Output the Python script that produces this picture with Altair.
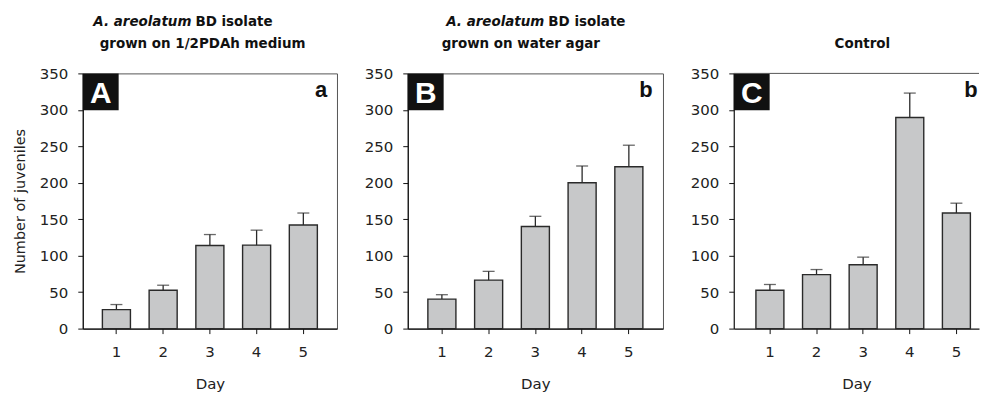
import altair as alt
import pandas as pd

days = [1, 2, 3, 4, 5]
means_A = [26, 52.5, 114, 114.5, 142]
upper_A = [33, 59.5, 129, 135, 158.5]
means_B = [40.5, 66.5, 140, 200, 222]
upper_B = [46.5, 78.5, 154, 223, 251.5]
means_C = [52.5, 74, 87.5, 289.5, 158.5]
upper_C = [60.5, 81, 98, 323, 172]

panel_ids = ["A", "B", "C"]
sig_letters = ["a", "b", "b"]
title_italic = ["A. areolatum", "A. areolatum", ""]
title_bold1 = ["BD isolate", "BD isolate", "Control"]
title_line2 = ["grown on 1/2PDAh medium", "grown on water agar", ""]
y_ticks = [0, 50, 100, 150, 200, 250, 300, 350]

H = 256
FONT = "DejaVu Sans"


def panel(i, means, upper, show_title, W, pad_outer, align, sig_dx, cut_right):
    df = pd.DataFrame({"Day": days, "mean": means, "upper": upper})
    base = alt.Chart(df)
    xaxis = alt.Axis(labelAngle=0, title="Day", titlePadding=17, labelPadding=11)
    xscale = alt.Scale(paddingInner=0.4, paddingOuter=pad_outer, align=align)
    xenc = alt.X("Day:O", scale=xscale, axis=xaxis)
    yaxis = alt.Axis(values=y_ticks, title="Number of juveniles" if show_title else None,
                     titlePadding=12, labelPadding=10, grid=False, labelOverlap=False)
    yscale = alt.Scale(domain=[0, 350], nice=False)

    bars = base.mark_bar(fill="#c7c8c9", stroke="#2a2a2a", strokeWidth=1.4).encode(
        x=xenc, y=alt.Y("mean:Q", scale=yscale, axis=yaxis)
    )
    err = base.mark_rule(color="#2a2a2a", strokeWidth=1.3).encode(
        x=xenc, y=alt.Y("mean:Q", scale=yscale, axis=yaxis), y2="upper:Q"
    )
    cap = base.mark_tick(color="#2a2a2a", size=12, thickness=1.3, orient="horizontal").encode(
        x=xenc, y=alt.Y("upper:Q", scale=yscale, axis=yaxis)
    )

    info = pd.DataFrame({
        "pid": [panel_ids[i]],
        "sig": [sig_letters[i]],
        "it": [title_italic[i]],
        "b1": [title_bold1[i]],
        "l2": [title_line2[i]],
    })
    ib = alt.Chart(info)
    box = ib.mark_rect(color="#111111").encode(
        x=alt.value(0), x2=alt.value(36), y=alt.value(0), y2=alt.value(37)
    )
    letter = ib.mark_text(color="white", font="Liberation Sans", fontWeight="bold",
                          fontSize=30, align="center", baseline="alphabetic").encode(
        x=alt.value(18), y=alt.value(30), text="pid:N"
    )
    sig = ib.mark_text(color="#111111", font="Liberation Sans", fontWeight="bold",
                       fontSize=22, align="center", baseline="alphabetic").encode(
        x=alt.value(W - sig_dx), y=alt.value(23.5), text="sig:N"
    )
    layers = [bars, err, cap, box, letter, sig]
    if cut_right:
        layers.append(ib.mark_rule(color="#555555", strokeWidth=1).encode(
            x=alt.value(0), x2=alt.value(W), y=alt.value(0)))

    tstyle = dict(font=FONT, fontWeight="bold", fontSize=13.5, color="#111111",
                  baseline="alphabetic")
    if i == 0:
        layers += [
            ib.mark_text(align="right", fontStyle="italic", **tstyle).encode(
                x=alt.value(109), y=alt.value(-48), text="it:N"),
            ib.mark_text(align="left", **tstyle).encode(
                x=alt.value(113), y=alt.value(-48), text="b1:N"),
            ib.mark_text(align="left", **tstyle).encode(
                x=alt.value(17), y=alt.value(-25), text="l2:N"),
        ]
    elif i == 1:
        layers += [
            ib.mark_text(align="right", fontStyle="italic", **tstyle).encode(
                x=alt.value(137), y=alt.value(-48), text="it:N"),
            ib.mark_text(align="left", **tstyle).encode(
                x=alt.value(141), y=alt.value(-48), text="b1:N"),
            ib.mark_text(align="left", **tstyle).encode(
                x=alt.value(34), y=alt.value(-25), text="l2:N"),
        ]
    else:
        layers += [
            ib.mark_text(align="center", **tstyle).encode(
                x=alt.value(129), y=alt.value(-25), text="b1:N"),
        ]
    ch = alt.layer(*layers).properties(width=W, height=H)
    if cut_right:
        ch = ch.properties(view=alt.ViewBackground(stroke="transparent"))
    return ch


pA = panel(0, means_A, upper_A, True, 255, 0.42, 0.5, 16, False)
pB = panel(1, means_B, upper_B, False, 256, 0.43, 0.5, 17, False)
pC = panel(2, means_C, upper_C, False, 246, 0.33, 0.72, 8, True)

chart = alt.hconcat(pA, pB, pC, spacing=71, bounds="flush").properties(
    padding={"left": 3, "top": 5, "right": 0, "bottom": 0}
).configure_view(
    stroke="#555555", strokeWidth=1
).configure_axis(
    domainColor="#111111", domainWidth=1.2, tickColor="#111111", tickWidth=1,
    tickSize=5, labelFont=FONT, labelFontSize=15, labelColor="#222222",
    titleFont=FONT, titleFontSize=14.5, titleFontWeight="normal", titleColor="#222222",
).configure_axisX(
    titleFontSize=15
)

chart.save("out.html", embed_options={"renderer": "svg", "actions": False})
